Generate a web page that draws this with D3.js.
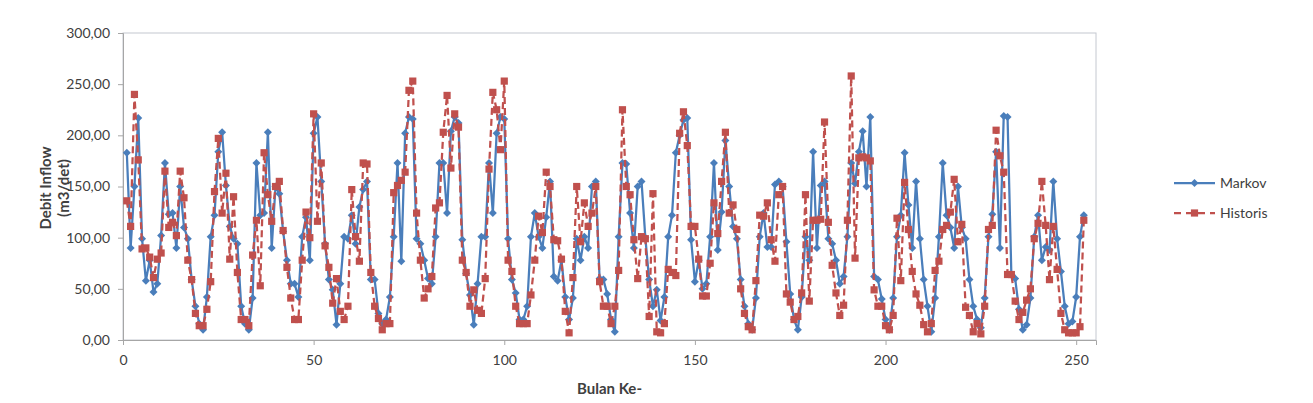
<!DOCTYPE html>
<html><head><meta charset="utf-8">
<script src="https://cdn.jsdelivr.net/npm/d3@7"></script>
<style>
html,body{margin:0;padding:0;background:#fff;}
text{font-family:Lato,"Open Sans",sans-serif;fill:#404040;}
</style></head>
<body><svg id="c" width="1313" height="403"></svg>
<script>
const seriesNames = ["Markov", "Historis"];
const markov = [
183,90,150,217,99,58,78,47,55,102,
173,123,124,90,150,110,99,59,33,16,
10,42,101,122,184,203,151,111,99,94,
33,16,10,41,173,122,124,203,90,150,
143,106,78,55,55,42,101,120,78,202,
218,155,94,59,49,15,55,101,99,122,
94,130,147,155,59,59,26,16,20,42,
101,173,77,202,218,216,99,94,78,60,
55,101,173,173,124,204,218,212,98,65,
44,15,55,101,101,173,124,202,218,216,
99,59,46,20,20,33,101,124,101,90,
120,155,62,58,78,42,20,41,99,78,
101,90,150,155,60,59,45,20,8,101,
173,172,124,90,150,155,100,59,33,49,
19,42,101,122,183,200,215,217,98,57,
78,50,55,101,173,88,125,195,150,111,
99,59,33,16,10,41,101,124,91,91,
152,155,150,96,45,20,10,42,101,78,
184,90,151,155,99,94,78,55,62,101,
173,153,184,204,150,218,62,59,40,20,
10,41,101,122,183,132,90,155,99,59,
33,8,41,101,173,122,110,90,150,110,
99,59,33,20,12,41,101,123,184,90,
219,218,64,60,30,10,15,41,101,122,
78,91,88,155,99,67,33,16,18,42,
101,122];
const historis = [
136,111,240,176,89,90,81,61,79,85,
165,110,115,102,165,139,78,59,26,14,
14,30,57,145,197,124,163,79,140,66,
20,20,14,83,117,53,183,142,116,150,
155,107,71,41,20,20,78,125,100,221,
116,173,92,71,36,60,28,20,33,147,
101,77,173,172,66,33,21,10,16,16,
144,151,156,164,244,253,124,78,41,50,
62,129,134,203,239,168,221,208,78,66,
33,49,29,26,60,167,242,225,186,253,
78,67,33,16,16,16,44,78,121,105,
164,150,98,97,79,28,7,61,150,96,
134,111,124,150,57,33,33,16,33,68,
225,150,142,98,60,101,99,23,143,8,
7,16,69,66,63,202,223,190,111,111,
79,43,43,75,134,104,155,203,124,132,
108,50,26,13,10,58,122,121,134,98,
77,142,150,45,37,20,23,46,142,38,
117,117,118,213,115,73,46,24,34,117,
258,80,178,179,178,175,49,33,33,14,
10,24,119,58,154,108,67,45,34,15,
8,16,68,77,108,112,125,157,96,113,
32,24,8,16,6,33,108,112,205,180,
164,64,64,38,20,27,39,50,99,114,
155,112,59,111,69,26,10,7,7,7,
13,117];
const months = d3.range(1, markov.length + 1);
const xTicks = [0, 50, 100, 150, 200, 250];
const yTicks = [0, 50, 100, 150, 200, 250, 300];
const xTitle = "Bulan Ke-";
const yTitle = ["Debit Inflow", "(m3/det)"];

const svg = d3.select("#c");
const L = 123, R = 1096, T = 33, B = 340;
const x = d3.scaleLinear().domain([0, 255.2]).range([L, R]);
const y = d3.scaleLinear().domain([0, 300]).range([B, T]);
const fmt = v => d3.format(".2f")(v).replace(".", ",");

svg.append("rect").attr("width", 1313).attr("height", 403).attr("fill", "#fff");
svg.append("rect").attr("x", L).attr("y", T).attr("width", R - L).attr("height", B - T)
  .attr("fill", "none").attr("stroke", "#C4C8D0").attr("stroke-width", 1);

const yAxis = svg.append("g").attr("transform", `translate(${L},0)`)
  .call(d3.axisLeft(y).tickValues(yTicks).tickFormat(fmt).tickSize(5).tickPadding(8));
const xAxis = svg.append("g").attr("transform", `translate(0,${B})`)
  .call(d3.axisBottom(x).tickValues(xTicks).tickFormat(d3.format("d")).tickSize(5).tickPadding(10));
[yAxis, xAxis].forEach(g => {
  g.select(".domain").attr("stroke", "#A6A6A6");
  g.selectAll(".tick line").attr("stroke", "#A6A6A6");
  g.selectAll(".tick text").attr("font-size", 14).attr("fill", "#404040")
    .attr("font-family", "Lato, 'Open Sans', sans-serif");
});

const blue = "#4A7EBB", red = "#C0504D";
const diamond = (cx, cy, r) => `M${cx},${cy - r}L${cx + r},${cy}L${cx},${cy + r}L${cx - r},${cy}Z`;
const square = (cx, cy, r) => `M${cx - r},${cy - r}h${2 * r}v${2 * r}h${-2 * r}Z`;

const line = d3.line().x((d, i) => x(months[i])).y(d => y(d));
svg.append("path").datum(markov).attr("d", line).attr("fill", "none")
  .attr("stroke", blue).attr("stroke-width", 2.25).attr("stroke-linejoin", "round");
svg.append("g").selectAll("path").data(markov).join("path")
  .attr("d", (d, i) => diamond(x(months[i]), y(d), 4)).attr("fill", blue);
svg.append("path").datum(historis).attr("d", line).attr("fill", "none")
  .attr("stroke", red).attr("stroke-width", 2.25).attr("stroke-dasharray", "7,4");
svg.append("g").selectAll("path").data(historis).join("path")
  .attr("d", (d, i) => square(x(months[i]), y(d), 3.6)).attr("fill", red);

svg.append("text").attr("x", (L + R) / 2).attr("y", 394).attr("text-anchor", "middle")
  .attr("font-size", 15).attr("font-weight", "bold").attr("fill", "#000").text(xTitle);
const yt = svg.append("text").attr("transform", "translate(46,188) rotate(-90)")
  .attr("text-anchor", "middle").attr("font-size", 15).attr("font-weight", "bold").attr("fill", "#000");
yt.append("tspan").attr("x", 0).attr("dy", "0.35em").text(yTitle[0]);
yt.append("tspan").attr("x", 0).attr("dy", "1.15em").text(yTitle[1]);

const lg = svg.append("g");
const ly = [183, 213];
lg.append("line").attr("x1", 1174).attr("x2", 1215).attr("y1", ly[0]).attr("y2", ly[0])
  .attr("stroke", blue).attr("stroke-width", 2.25);
lg.append("path").attr("d", diamond(1194.5, ly[0], 4)).attr("fill", blue);
lg.append("line").attr("x1", 1174).attr("x2", 1215).attr("y1", ly[1]).attr("y2", ly[1])
  .attr("stroke", red).attr("stroke-width", 2.25).attr("stroke-dasharray", "7,5");
lg.append("path").attr("d", square(1194.5, ly[1], 3.6)).attr("fill", red);
seriesNames.forEach((n, i) => {
  lg.append("text").attr("x", 1220).attr("y", ly[i]).attr("dy", "0.35em")
    .attr("font-size", 14).attr("fill", "#000").text(n);
});
</script></body></html>
